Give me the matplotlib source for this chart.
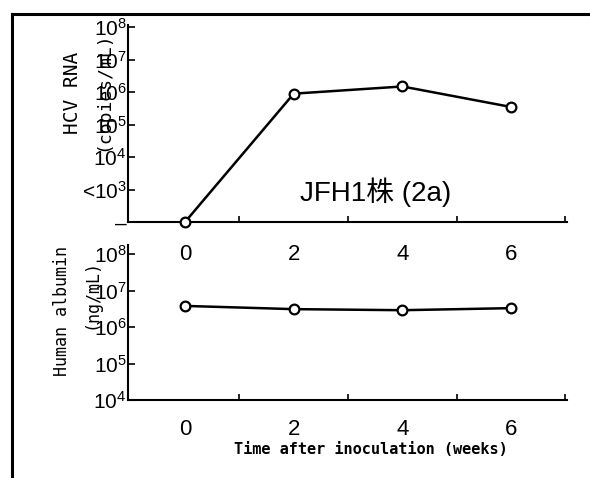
import matplotlib
matplotlib.use("Agg")
import matplotlib.pyplot as plt
from matplotlib.lines import Line2D

# data
weeks = [0, 2, 4, 6]
hcv_rna = [1e2, 9e5, 1.5e6, 3.5e5]          # copies/mL (week 0 below detection)
albumin = [3.8e6, 3.1e6, 2.9e6, 3.3e6]      # ng/mL

hcv_ticks = [1e2, 1e3, 1e4, 1e5, 1e6, 1e7, 1e8]
hcv_ticklabels = ["\u2013", "<$10^{3}$", "$10^{4}$", "$10^{5}$", "$10^{6}$", "$10^{7}$", "$10^{8}$"]
alb_ticks = [1e4, 1e5, 1e6, 1e7, 1e8]
alb_ticklabels = ["$10^{4}$", "$10^{5}$", "$10^{6}$", "$10^{7}$", "$10^{8}$"]
week_labels = ["0", "2", "4", "6"]

plt.rcParams['font.family'] = ['Liberation Sans', 'DejaVu Sans']
plt.rcParams['mathtext.default'] = 'regular'

W, H = 590, 478
fig = plt.figure(figsize=(W / 100, H / 100), dpi=100)

def frac(x0, y0, x1, y1):
    # pixel box -> figure fraction [left, bottom, width, height]
    return [x0 / W, 1 - y1 / H, (x1 - x0) / W, (y1 - y0) / H]

ax1 = fig.add_axes(frac(128, 25, 567, 222))
ax2 = fig.add_axes(frac(128, 245, 567, 400))
ax2.patch.set_visible(False)

def style(ax, pad_x):
    for s in ("top", "right"):
        ax.spines[s].set_visible(False)
    for s in ("left", "bottom"):
        ax.spines[s].set_linewidth(1.5)
    ax.set_xlim(-1.05, 7.03)
    ax.set_xticks(weeks)
    ax.set_xticklabels(week_labels, fontsize=16)
    ax.set_xticks([1, 3, 5, 7], minor=True)
    ax.tick_params(axis="x", which="major", length=0, pad=pad_x)
    ax.tick_params(axis="x", which="minor", direction="in", length=4, width=1.2)
    ax.tick_params(axis="y", which="major", direction="in", length=5, width=1.2,
                   labelsize=15, pad=1)
    ax.tick_params(axis="y", which="minor", length=0)

# HCV RNA panel
ax1.semilogy(weeks, hcv_rna, color="black", lw=1.8, marker="o", ms=7,
             mfc="white", mec="black", mew=1.6, clip_on=False, zorder=3)
ax1.set_ylim(1e2, 10 ** 8.07)
ax1.set_yticks(hcv_ticks)
ax1.set_yticklabels(hcv_ticklabels)
style(ax1, 16)
ax1.text(0.563, 0.15, "JFH1株 (2a)", transform=ax1.transAxes, ha="center", va="center",
         fontsize=20, family=['Liberation Sans', 'Noto Sans CJK JP'])

# Human albumin panel
ax2.semilogy(weeks, albumin, color="black", lw=1.8, marker="o", ms=7,
             mfc="white", mec="black", mew=1.6, clip_on=False, zorder=3)
ax2.set_ylim(1e4, 10 ** 8.25)
ax2.set_yticks(alb_ticks)
ax2.set_yticklabels(alb_ticklabels)
style(ax2, 14)

# axis titles
mono = ['DejaVu Sans Mono']
fig.text(72 / W, 1 - 93 / H, "HCV RNA", rotation=90, ha="center", va="center",
         fontsize=14, family=mono)
fig.text(103 / W, 1 - 91 / H, "(copies/mL)", rotation=90, ha="center", va="center",
         fontsize=13, family=mono)
fig.text(62 / W, 1 - 311 / H, "Human albumin", rotation=90, ha="center", va="center",
         fontsize=12, family=mono)
fig.text(92 / W, 1 - 294 / H, "(ng/mL)", rotation=90, ha="center", va="center",
         fontsize=12, family=mono)
fig.text(371 / W, 1 - 450 / H, "Time after inoculation (weeks)", ha="center", va="center",
         fontsize=11, fontweight="bold", family=mono)

# outer frame (top and left edges)
fig.add_artist(Line2D([12 / W, 1.0], [1 - 14 / H, 1 - 14 / H], color="black", lw=2.2))
fig.add_artist(Line2D([12 / W, 12 / W], [1 - 14 / H, 1 - 476 / H], color="black", lw=2.2))

fig.savefig("out.png", dpi=100)
